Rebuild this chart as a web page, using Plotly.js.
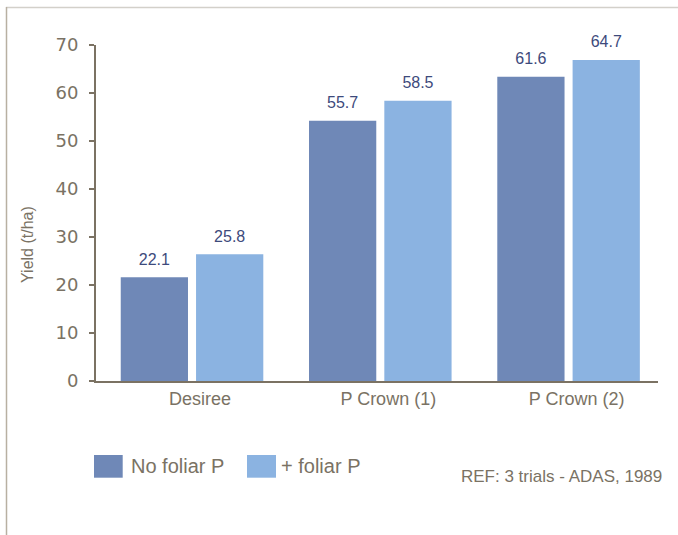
<!DOCTYPE html>
<html>
<head>
<meta charset="utf-8">
<script src="https://cdn.plot.ly/plotly-3.0.1.min.js"></script>
<style>
  html, body { margin: 0; padding: 0; background: #ffffff; }
  #chart { width: 678px; height: 535px; }
</style>
</head>
<body>
<div id="chart"></div>
<script>
// ---- data ----
const categories = ["Desiree", "P Crown (1)", "P Crown (2)"];
const seriesNames = ["No foliar P", "+ foliar P"];
// bar heights as drawn in the reference (t/ha)
const noFoliarHeights = [21.6, 54.2, 63.4];
const foliarHeights = [26.4, 58.4, 66.9];
// value labels printed above the bars
const noFoliarLabels = ["22.1", "55.7", "61.6"];
const foliarLabels = ["25.8", "58.5", "64.7"];
const yTickValues = [0, 10, 20, 30, 40, 50, 60, 70];
const yAxisTitle = "Yield (t/ha)";
const refNote = "REF: 3 trials - ADAS, 1989";

// ---- styles ----
const colDark = "#6f88b7";
const colLight = "#8bb3e1";
const axisCol = "#7b7263";
const textCol = "#7a7264";
const labelCol = "#3d4a7c";
const sans = "Liberation Sans, Arial, sans-serif";

function barTrace(name, heights, color) {
  return {
    type: "bar", name: name, x: categories, y: heights,
    marker: { color: color }, hoverinfo: "skip"
  };
}
function labelTrace(name, heights, labels) {
  return {
    type: "scatter", mode: "markers+text", name: name + " labels",
    x: categories, y: heights, text: labels, textposition: "top center",
    marker: { size: 12, opacity: 0 }, cliponaxis: false,
    textfont: { family: sans, size: 16, color: labelCol }, hoverinfo: "skip"
  };
}

const traces = [
  barTrace(seriesNames[0], noFoliarHeights, colDark),
  barTrace(seriesNames[1], foliarHeights, colLight),
  labelTrace(seriesNames[0], noFoliarHeights, noFoliarLabels),
  labelTrace(seriesNames[1], foliarHeights, foliarLabels)
];

const W = 678, H = 535;
const mL = 96, mR = 20, mT = 45, mB = 154;
const pw = W - mL - mR, ph = H - mT - mB;
const px = v => (v - mL) / pw;           // pixel -> paper x
const py = v => (H - mB - v) / ph;       // pixel -> paper y

const layout = {
  width: W, height: H,
  margin: { l: mL, r: mR, t: mT, b: mB, pad: 0 },
  paper_bgcolor: "#ffffff", plot_bgcolor: "#ffffff",
  barmode: "group", bargap: 0.2, bargroupgap: 0.107,
  scattermode: "group", scattergap: 0.2,
  showlegend: false,
  font: { family: sans, color: textCol },
  xaxis: {
    type: "category", range: [-0.51, 2.475],
    showline: true, linecolor: axisCol, linewidth: 2,
    ticks: "", showgrid: false, zeroline: false,
    tickfont: { family: sans, size: 18, color: textCol },
    ticklabelshift: 8, ticklabelstandoff: 0
  },
  yaxis: {
    range: [0, 70], tickvals: yTickValues,
    showline: true, linecolor: axisCol, linewidth: 2,
    ticks: "outside", ticklen: 5, tickwidth: 1.5, tickcolor: axisCol,
    showgrid: false, zeroline: false,
    tickfont: { family: "DejaVu Sans, sans-serif", size: 18, color: textCol },
    ticklabelstandoff: 7
  },
  shapes: [
    // frame lines (top and left)
    { type: "line", xref: "paper", yref: "paper", x0: px(6), x1: px(678), y0: py(7.5), y1: py(7.5),
      line: { color: "#d3d0ca", width: 1.3 } },
    { type: "line", xref: "paper", yref: "paper", x0: px(6.5), x1: px(6.5), y0: py(7), y1: py(535),
      line: { color: "#b8b0a2", width: 1.5 } },
    // legend swatches
    { type: "rect", xref: "paper", yref: "paper", x0: px(94), x1: px(122.7), y0: py(455), y1: py(477.7),
      line: { width: 0 }, fillcolor: colDark },
    { type: "rect", xref: "paper", yref: "paper", x0: px(247), x1: px(276), y0: py(455), y1: py(477.7),
      line: { width: 0 }, fillcolor: colLight }
  ],
  annotations: [
    // y-axis title
    { xref: "paper", yref: "paper", x: px(27), y: py(245), xanchor: "center", yanchor: "middle",
      textangle: -90, text: yAxisTitle, showarrow: false,
      font: { family: sans, size: 16, color: textCol } },
    // legend labels
    { xref: "paper", yref: "paper", x: px(129), y: py(466.5), xanchor: "left", yanchor: "middle",
      text: seriesNames[0], showarrow: false, font: { family: sans, size: 20, color: textCol } },
    { xref: "paper", yref: "paper", x: px(279), y: py(466.5), xanchor: "left", yanchor: "middle",
      text: seriesNames[1], showarrow: false, font: { family: sans, size: 20, color: textCol } },
    // source note
    { xref: "paper", yref: "paper", x: px(664), y: py(477), xanchor: "right", yanchor: "middle",
      text: refNote, showarrow: false, font: { family: sans, size: 17, color: textCol } }
  ]
};

Plotly.newPlot("chart", traces, layout, { staticPlot: true, displayModeBar: false });
</script>
</body>
</html>
